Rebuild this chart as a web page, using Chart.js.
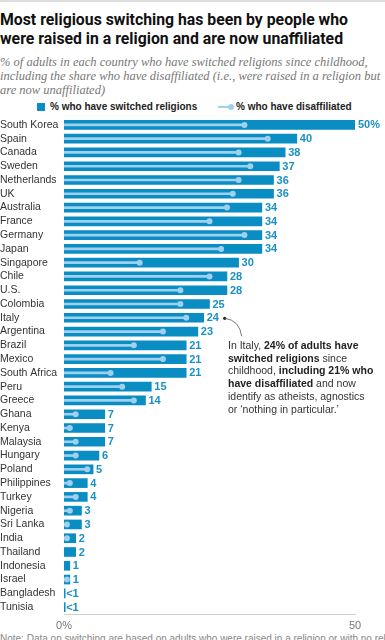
<!DOCTYPE html>
<html>
<head>
<meta charset="utf-8">
<script src="https://cdn.jsdelivr.net/npm/chart.js@4.4.1/dist/chart.umd.min.js"></script>
<style>
  html, body { margin: 0; padding: 0; }
  body { width: 385px; height: 640px; overflow: hidden; background: #fff; position: relative;
         font-family: "Liberation Sans", Arial, sans-serif; color: #222; }
  .topline { position: absolute; left: 0; top: 0; width: 385px; height: 2px; background: #ddd; }
  .title { position: absolute; left: 0; top: 10px; font-family: "Roboto", "Liberation Sans", sans-serif;
           font-weight: 700; font-size: 15.8px; line-height: 19px; white-space: nowrap; color: #111; }
  .subtitle { position: absolute; left: 0; top: 55px; font-family: "Liberation Serif", serif; font-style: italic;
              font-size: 12.5px; line-height: 14px; color: #777; white-space: nowrap; }
  .legend { position: absolute; top: 100px; left: 0; width: 385px; height: 14px; font-size: 10px; font-weight: 700; color: #222; }
  .legend span { position: absolute; top: 0; line-height: 14px; white-space: nowrap; }
  .sw { position: absolute; left: 37px; top: 3px; width: 8px; height: 8px; background: #0a8dc3; }
  .dl { position: absolute; left: 218px; top: 6px; width: 12px; height: 2px; background: #9fd0ee; }
  .dd { position: absolute; left: 228px; top: 4px; width: 6px; height: 6px; border-radius: 3px; background: #9fd0ee; }
  .note-it { position: absolute; left: 228px; top: 339px; font-size: 10.5px; line-height: 12.7px; color: #333; white-space: nowrap; }
  .note-it b { color: #222; }
  .foot { position: absolute; left: 0; top: 633px; font-size: 10px; color: #888; white-space: nowrap; }
  #wrap { position: absolute; left: 0; top: 110px; width: 385px; height: 520px; }
</style>
</head>
<body>
<div class="topline"></div>
<div class="title">Most religious switching has been by people who<br>were raised in a religion and are now unaffiliated</div>
<div class="subtitle">% of adults in each country who have switched religions since childhood,<br>including the share who have disaffiliated (i.e., were raised in a religion but<br>are now unaffiliated)</div>
<div class="legend">
  <div class="sw"></div><span style="left:50px">% who have switched religions</span>
  <div class="dl"></div><div class="dd"></div><span style="left:236px">% who have disaffiliated</span>
</div>
<div id="wrap"><canvas id="chart"></canvas></div>
<div class="note-it">In Italy, <b>24% of adults have</b><br><b>switched religions</b> since<br>childhood, <b>including 21% who</b><br><b>have disaffiliated</b> and now<br>identify as atheists, agnostics<br>or ‘nothing in particular.’</div>
<div class="foot">Note: Data on switching are based on adults who were raised in a religion or with no religion.</div>

<script>
const countries = ['South Korea', 'Spain', 'Canada', 'Sweden', 'Netherlands', 'UK', 'Australia', 'France', 'Germany', 'Japan',
  'Singapore', 'Chile', 'U.S.', 'Colombia', 'Italy', 'Argentina', 'Brazil', 'Mexico', 'South Africa', 'Peru',
  'Greece', 'Ghana', 'Kenya', 'Malaysia', 'Hungary', 'Poland', 'Philippines', 'Turkey', 'Nigeria', 'Sri Lanka',
  'India', 'Thailand', 'Indonesia', 'Israel', 'Bangladesh', 'Tunisia'];
const switched = [50, 40, 38, 37, 36, 36, 34, 34, 34, 34,
  30, 28, 28, 25, 24, 23, 21, 21, 21, 15,
  14, 7, 7, 7, 6, 5, 4, 4, 3, 3,
  2, 2, 1, 1, 0.2, 0.2];
const disaffiliated = [31, 35, 30, 32, 30, 29, 28, 25, 31, 27,
  13, 25, 20, 20, 21, 17, 12, 17, 8, 10,
  12, 2, 1, 2, 2, 4, 1, 2, 1, 0.5,
  0.5, null, null, 0.5, null, null];
const xTicks = [0, 50];
const xTickLabels = ['0%', '50'];

const barBlue = '#0a8dc3';
const lightBlue = '#9fd0ee';
const labelBlue = '#1a90c4';

// value labels at bar ends + the little pointer to the Italy note
const valueLabels = {
  id: 'valueLabels',
  afterDatasetsDraw(chart) {
    const ctx = chart.ctx;
    const meta = chart.getDatasetMeta(0);
    ctx.save();
    ctx.font = 'bold 11px "Liberation Sans", Arial, sans-serif';
    ctx.fillStyle = labelBlue;
    ctx.textBaseline = 'middle';
    meta.data.forEach((bar, i) => {
      const v = switched[i];
      const txt = v < 1 ? '<1' : (i === 0 ? v + '%' : String(v));
      ctx.fillText(txt, bar.x + (v < 1 ? 1 : 3), bar.y + 0.5);
    });
    const k = countries.indexOf('Italy');
    const b = meta.data[k];
    const dx = b.x + 21, dy = b.y + 0.5;
    ctx.fillStyle = '#222';
    ctx.beginPath();
    ctx.arc(dx, dy, 1.6, 0, Math.PI * 2);
    ctx.fill();
    ctx.strokeStyle = '#555';
    ctx.lineWidth = 0.8;
    ctx.beginPath();
    ctx.moveTo(dx, dy);
    ctx.quadraticCurveTo(dx + 15, dy + 2, dx + 17, dy + 18);
    ctx.stroke();
    ctx.restore();
  }
};

new Chart(document.getElementById('chart'), {
  type: 'bar',
  data: {
    labels: countries,
    datasets: [
      {
        label: '% who have switched religions',
        data: switched,
        backgroundColor: barBlue,
        barThickness: 9,
        grouped: false,
        order: 3
      },
      {
        label: 'disaffiliated line',
        data: disaffiliated,
        backgroundColor: lightBlue,
        barThickness: 2,
        grouped: false,
        order: 2
      },
      {
        type: 'line',
        label: '% who have disaffiliated',
        data: disaffiliated,
        indexAxis: 'y',
        showLine: false,
        pointRadius: 3,
        pointBorderWidth: 0,
        pointBackgroundColor: lightBlue,
        order: 1
      }
    ]
  },
  options: {
    indexAxis: 'y',
    responsive: true,
    maintainAspectRatio: false,
    animation: false,
    layout: { padding: { top: 8, right: 30, left: 0, bottom: 0 } },
    plugins: { legend: { display: false }, tooltip: { enabled: false } },
    scales: {
      x: {
        min: 0, max: 50,
        grid: { display: false, drawTicks: false },
        border: { display: true, color: '#d0d0d0', width: 1 },
        afterBuildTicks: (scale) => { scale.ticks = xTicks.map(v => ({ value: v })); },
        afterFit: (scale) => { scale.height = 16; },
        ticks: {
          autoSkip: false, maxRotation: 0, padding: 5,
          color: '#777', font: { family: '"Liberation Sans", Arial, sans-serif', size: 11 },
          callback: (v) => xTickLabels[xTicks.indexOf(v)]
        }
      },
      y: {
        grid: { display: false, drawTicks: false },
        border: { display: false },
        afterFit: (scale) => { scale.width = 64; },
        ticks: {
          autoSkip: false, crossAlign: 'far', padding: 0,
          color: '#333', font: { family: '"Liberation Sans", Arial, sans-serif', size: 10.5 }
        }
      }
    }
  },
  plugins: [valueLabels]
});
</script>
</body>
</html>
